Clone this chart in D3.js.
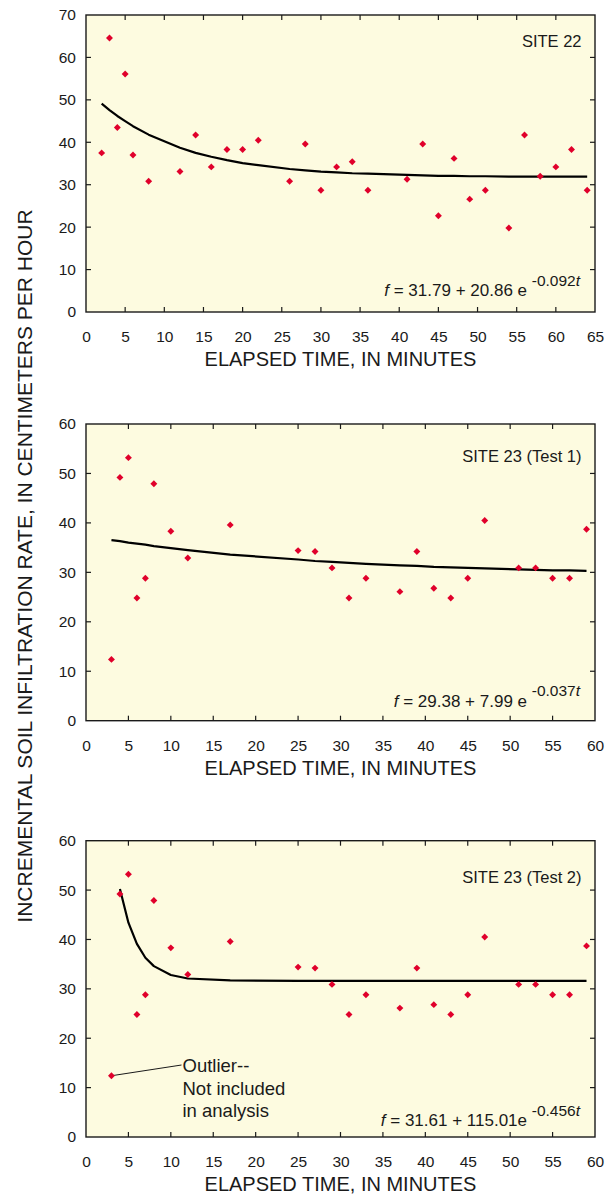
<!DOCTYPE html>
<html><head><meta charset="utf-8">
<script src="https://cdn.jsdelivr.net/npm/d3@7"></script>
<style>
html,body{margin:0;padding:0;background:#fff;}
svg{display:block;font-family:"Liberation Sans",Arial,Helvetica,sans-serif;}
</style></head>
<body>
<svg id="chart" width="608" height="1197"></svg>
<script>
// ---------- DATA ----------
const site22Time = [2,3,4,5,6,8,12,14,16,18,20,22,26,28,30,32,34,36,41,43,45,47,49,51,54,56,58,60,62,64];
const site22Rate = [37.5,64.6,43.5,56.1,37.0,30.8,33.1,41.7,34.2,38.3,38.3,40.5,30.8,39.6,28.7,34.2,35.4,28.7,31.3,39.6,22.7,36.2,26.6,28.7,19.8,41.7,32.0,34.2,38.3,28.7];
const site22Fit  = [49.1,47.6,46.2,45.0,43.8,41.8,38.7,37.5,36.6,35.8,35.1,34.6,33.7,33.4,33.1,32.9,32.7,32.6,32.3,32.2,32.1,32.1,32.0,32.0,31.9,31.9,31.9,31.9,31.9,31.9];

const site23Time = [3,4,5,6,7,8,10,12,17,25,27,29,31,33,37,39,41,43,45,47,51,53,55,57,59];
const site23Rate = [12.4,49.2,53.2,24.8,28.8,47.9,38.3,32.9,39.6,34.4,34.2,30.9,24.8,28.8,26.1,34.2,26.8,24.8,28.8,40.5,30.9,30.9,28.8,28.8,38.7];
const test1Fit   = [36.5,36.3,36.0,35.8,35.6,35.3,34.9,34.5,33.6,32.6,32.3,32.1,31.9,31.7,31.4,31.3,31.1,31.0,30.9,30.8,30.6,30.5,30.4,30.4,30.3];
const test2FitTime = [4,5,6,7,8,10,12,17,25,27,29,31,33,37,39,41,43,45,47,51,53,55,57,59];
const test2Fit     = [50.2,43.4,39.1,36.3,34.6,32.8,32.1,31.7,31.6,31.6,31.6,31.6,31.6,31.6,31.6,31.6,31.6,31.6,31.6,31.6,31.6,31.6,31.6,31.6];

const xTicks22 = [0,5,10,15,20,25,30,35,40,45,50,55,60,65];
const yTicks22 = [0,10,20,30,40,50,60,70];
const xTicks23 = [0,5,10,15,20,25,30,35,40,45,50,55,60];
const yTicks23 = [0,10,20,30,40,50,60];

const siteLabels = ["SITE 22", "SITE 23 (Test 1)", "SITE 23 (Test 2)"];
const eqMain = [" = 31.79 + 20.86 e ", " = 29.38 + 7.99 e ", " = 31.61 + 115.01e "];
const eqExp  = ["-0.092", "-0.037", "-0.456"];
const xTitle = "ELAPSED TIME, IN MINUTES";
const yTitle = "INCREMENTAL SOIL INFILTRATION RATE, IN CENTIMETERS PER HOUR";
const outlierLines = ["Outlier--", "Not included", "in analysis"];

// ---------- LAYOUT ----------
const L = 86, R = 595;
const panels = [
  {time: site22Time, rate: site22Rate, fitT: site22Time, fit: site22Fit, xt: xTicks22, yt: yTicks22,
   top: 15, bottom: 312, siteDy: 31.5, eqDy: 16},
  {time: site23Time, rate: site23Rate, fitT: site23Time, fit: test1Fit, xt: xTicks23, yt: yTicks23,
   top: 424, bottom: 720.7, siteDy: 37.7, eqDy: 14},
  {time: site23Time, rate: site23Rate, fitT: test2FitTime, fit: test2Fit, xt: xTicks23, yt: yTicks23,
   top: 840.7, bottom: 1137, siteDy: 42, eqDy: 11, outlier: true}
];

const svg = d3.select("#chart");
const ink = "#1a1a1a";
const dotColor = "#e0002b";
const FF = "'Liberation Sans', Arial, Helvetica, sans-serif";

panels.forEach((p, i) => {
  const x = d3.scaleLinear().domain([0, d3.max(p.xt)]).range([L, R]);
  const y = d3.scaleLinear().domain([0, d3.max(p.yt)]).range([p.bottom, p.top]);
  const g = svg.append("g");

  g.append("rect").attr("x", L).attr("y", p.top).attr("width", R - L).attr("height", p.bottom - p.top)
    .attr("fill", "#fdfbe0");

  const inner = p.xt.slice(1, -1), innerY = p.yt.slice(1, -1);
  const bx = d3.axisBottom(x).tickValues(p.xt).tickSize(0).tickPadding(19).tickFormat(d3.format("d"));
  const bAxis = g.append("g").attr("transform", `translate(0,${p.bottom})`).call(bx)
    .attr("font-family", FF).attr("font-size", 15.5);
  bAxis.select(".domain").remove();
  bAxis.selectAll("text").attr("fill", ink);

  const tk = g.append("g").attr("stroke", ink).attr("stroke-width", 1.2);
  inner.forEach(v => {
    tk.append("line").attr("x1", x(v)).attr("x2", x(v)).attr("y1", p.bottom).attr("y2", p.bottom - 5);
    tk.append("line").attr("x1", x(v)).attr("x2", x(v)).attr("y1", p.top).attr("y2", p.top + 5);
  });
  innerY.forEach(v => {
    tk.append("line").attr("x1", L).attr("x2", L + 5).attr("y1", y(v)).attr("y2", y(v));
    tk.append("line").attr("x1", R).attr("x2", R - 5).attr("y1", y(v)).attr("y2", y(v));
  });
  const ly = d3.axisLeft(y).tickValues(p.yt).tickSize(0).tickPadding(10).tickFormat(d3.format("d"));
  const lAxis = g.append("g").attr("transform", `translate(${L},0)`).call(ly)
    .attr("font-family", FF).attr("font-size", 15.5);
  lAxis.select(".domain").remove();
  lAxis.selectAll("text").attr("fill", ink);

  g.append("rect").attr("x", L).attr("y", p.top).attr("width", R - L).attr("height", p.bottom - p.top)
    .attr("fill", "none").attr("stroke", ink).attr("stroke-width", 1.4);

  const fitData = p.fitT.map((t, k) => [t, p.fit[k]]);
  g.append("path").datum(fitData)
    .attr("d", d3.line().x(d => x(d[0])).y(d => y(d[1])))
    .attr("fill", "none").attr("stroke", "#000").attr("stroke-width", 2.2).attr("stroke-linejoin", "round");

  if (p.outlier) {
    const ox = x(p.time[0]), oy = y(p.rate[0]);
    g.append("line").attr("x1", ox).attr("y1", oy).attr("x2", 181.5).attr("y2", 1065)
      .attr("stroke", ink).attr("stroke-width", 1);
    const t = g.append("text").attr("x", 182.5).attr("y", 1072).attr("font-size", 18.5).attr("fill", ink);
    outlierLines.forEach((s, k) => t.append("tspan").attr("x", 182.5).attr("dy", k ? 22.5 : 0).text(s));
  }

  const sym = d3.symbol().type(d3.symbolSquare).size(24);
  g.append("g").selectAll("path").data(p.time.map((t, k) => [t, p.rate[k]])).join("path")
    .attr("d", sym)
    .attr("transform", d => `translate(${x(d[0])},${y(d[1])}) rotate(45)`)
    .attr("fill", dotColor);

  g.append("text").attr("x", 581.5).attr("y", p.top + p.siteDy).attr("text-anchor", "end")
    .attr("font-size", 16.5).attr("fill", ink).text(siteLabels[i]);

  const eq = g.append("text").attr("x", 580).attr("y", p.bottom - p.eqDy).attr("text-anchor", "end")
    .attr("font-size", 17).attr("fill", ink);
  eq.append("tspan").attr("font-style", "italic").text("f");
  eq.append("tspan").text(eqMain[i]);
  eq.append("tspan").attr("dy", -10.5).attr("font-size", 15.5).text(eqExp[i]);
  eq.append("tspan").attr("font-size", 15.5).attr("font-style", "italic").text("t");

  g.append("text").attr("x", (L + R) / 2).attr("y", p.bottom + 54).attr("text-anchor", "middle")
    .attr("font-size", 20).attr("fill", ink).text(xTitle);
});

svg.append("text").attr("transform", "translate(32,566) rotate(-90)").attr("text-anchor", "middle")
  .attr("font-size", 21).attr("fill", ink).text(yTitle);
</script>
</body></html>
